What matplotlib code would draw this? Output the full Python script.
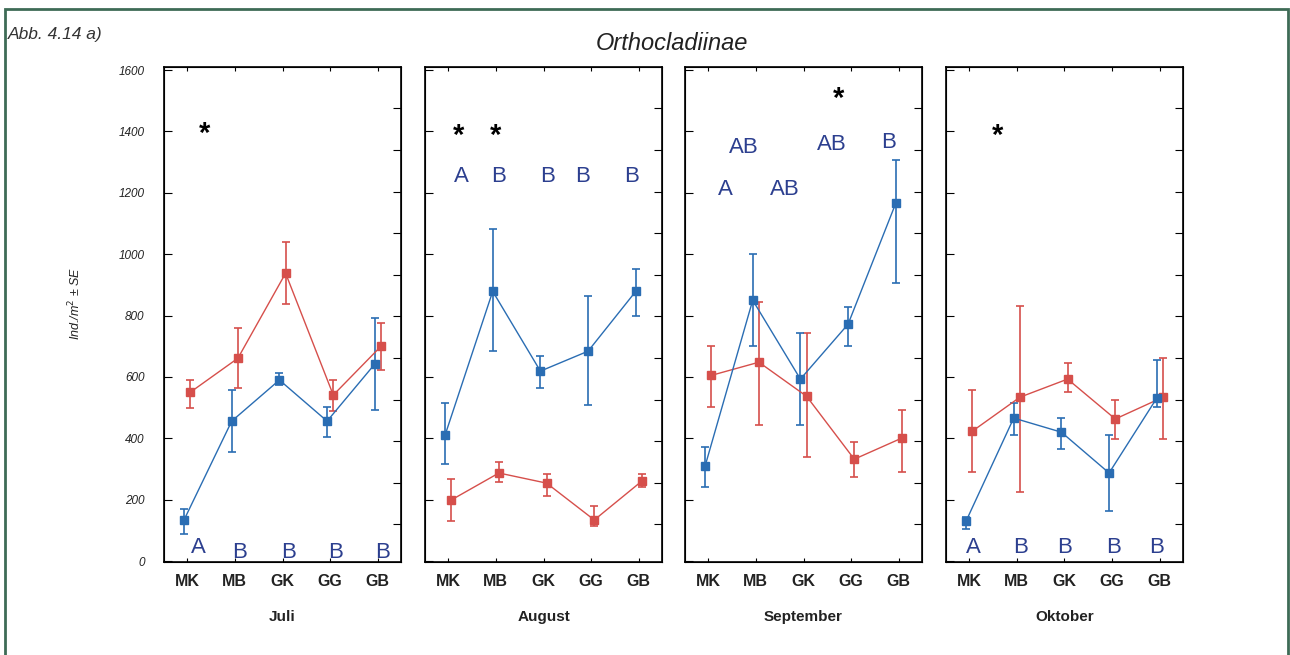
import numpy as np
import matplotlib
matplotlib.use("Agg")
from matplotlib import pyplot as plt
from matplotlib.patches import Rectangle

plt.rcParams.update({'font.family': ['Liberation Sans', 'DejaVu Sans']})

sites = ['MK', 'MB', 'GK', 'GG', 'GB']
months = ['Juli', 'August', 'September', 'Oktober']

# mean, lower and upper end of the SE bar, one row per month
blue_mean = [[134, 456, 590, 456, 642],
             [410, 879, 619, 684, 879],
             [309, 850, 593, 772, 1166],
             [130, 466, 420, 287, 531]]
blue_lo = [[88, 355, 573, 404, 492],
           [316, 684, 564, 508, 798],
           [241, 700, 443, 700, 906],
           [104, 410, 365, 163, 502]]
blue_hi = [[169, 557, 612, 502, 791],
           [515, 1081, 668, 863, 951],
           [371, 1000, 743, 827, 1306],
           [143, 515, 466, 410, 655]]

red_mean = [[550, 661, 938, 541, 700],
            [199, 287, 254, 134, 261],
            [605, 648, 537, 332, 401],
            [423, 534, 593, 463, 534]]
red_lo = [[498, 564, 837, 489, 622],
          [130, 257, 212, 114, 241],
          [502, 443, 339, 274, 290],
          [290, 225, 550, 397, 397]]
red_hi = [[590, 759, 1039, 590, 775],
          [267, 322, 283, 179, 283],
          [700, 844, 743, 388, 492],
          [557, 830, 645, 524, 661]]

# significance letters per month: (text, x, y)
letters = [
    [('A', 1.23, 26), ('B', 2.09, 10), ('B', 3.13, 10), ('B', 4.12, 10), ('B', 5.10, 10)],
    [('A', 1.27, 1235), ('B', 2.06, 1235), ('B', 3.08, 1235), ('B', 3.81, 1235), ('B', 4.85, 1235)],
    [('A', 1.36, 1193), ('AB', 1.74, 1329), ('AB', 2.60, 1193), ('AB', 3.59, 1339), ('B', 4.79, 1346)],
    [('A', 1.08, 26), ('B', 2.07, 26), ('B', 3.00, 26), ('B', 4.03, 26), ('B', 4.94, 26)],
]
stars = [[(1.36, 1391)],
         [(1.21, 1385), (2.00, 1385)],
         [(3.74, 1505)],
         [(1.59, 1385)]]

BLUE = '#2a6db3'
RED = '#d64f4b'
LETTER = '#2c3f8f'

W, H = 1290, 655
fig = plt.figure(figsize=(W / 100, H / 100), dpi=100)

# outer frame
fig.patches.append(Rectangle((5 / W, -0.02), (1288 - 5) / W, 1 - 9 / H + 0.02,
                             transform=fig.transFigure, fill=False,
                             ec='#3e6b56', lw=2))

fig.text(8 / W, 1 - 35 / H, 'Abb. 4.14 a)', fontsize=12.5, fontstyle='italic',
         color='#333333', va='center')
fig.text(672 / W, 1 - 43 / H, 'Orthocladiinae', fontsize=17, fontstyle='italic',
         color='#222222', ha='center', va='center')
fig.text(75 / W, 1 - 303 / H, 'Ind./m$^2$ ± SE', fontsize=9, fontstyle='italic',
         color='#222222', rotation=90, ha='center', va='center')

lefts = [164, 425, 685, 946]
x = np.arange(1, 6)
dx = 0.065

for i, month in enumerate(months):
    ax = fig.add_axes([lefts[i] / W, 1 - 562 / H, 237 / W, (562 - 67) / H])
    ax.set_xlim(0.515, 5.485)
    ax.set_ylim(-3, 1610)

    for mean, lo, hi, col, off in [(red_mean, red_lo, red_hi, RED, dx),
                                   (blue_mean, blue_lo, blue_hi, BLUE, -dx)]:
        m = np.array(mean[i])
        err = [m - np.array(lo[i]), np.array(hi[i]) - m]
        ax.errorbar(x + off, m, yerr=err, color=col, ecolor=col, lw=1,
                    elinewidth=1.2, capsize=2.7, capthick=1.2, marker='s',
                    markersize=5.5, markeredgecolor=col, markerfacecolor=col)

    for txt, lx, ly in letters[i]:
        ax.text(lx, ly, txt, color=LETTER, fontsize=16, ha='center', va='baseline')
    for sx, sy in stars[i]:
        ax.text(sx, sy, '*', color='black', fontsize=21, fontweight='bold',
                ha='center', va='center')

    ax.set_xticks(x)
    ax.set_xticklabels(sites, fontsize=11.5, fontweight='bold', color='#222222')
    ax.tick_params(axis='x', direction='in', length=3, pad=9, top=True)
    ax.set_yticks(np.arange(0, 1601, 200))
    if i == 0:
        ax.set_yticklabels([str(v) for v in range(0, 1601, 200)], fontsize=8.5,
                           fontstyle='italic', color='#222222')
    else:
        ax.set_yticklabels([])
    ax.tick_params(axis='y', direction='in', length=6, pad=14)

    # independent tick marks on the right spine
    ax2 = ax.twinx()
    ax2.set_ylim(ax.get_ylim())
    ax2.set_yticks(np.arange(120, 1500, 135.5))
    ax2.set_yticklabels([])
    ax2.tick_params(axis='y', direction='in', length=6)

    for sp in ax.spines.values():
        sp.set_linewidth(1.2)
    ax.text(0.5, -0.111, month, transform=ax.transAxes, ha='center', va='center',
            fontsize=11, fontweight='bold', color='#222222')

fig.savefig('out.png', dpi=100)
